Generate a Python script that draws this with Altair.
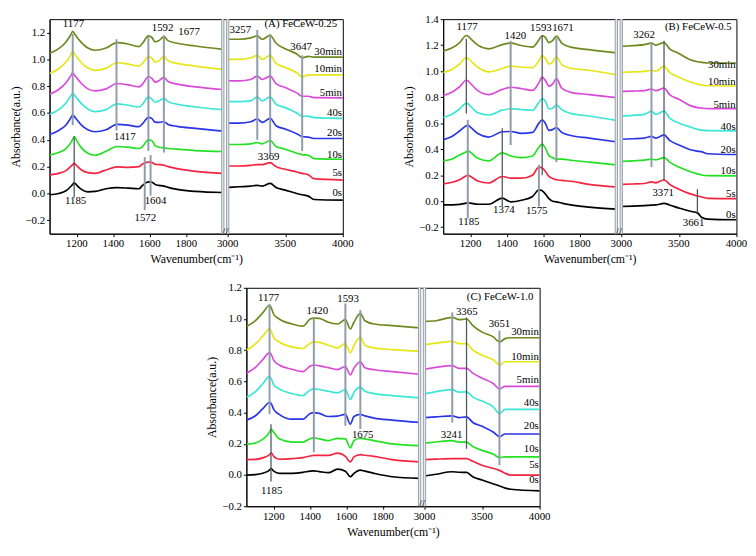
import altair as alt
import pandas as pd

SERIES = ["0s", "5s", "10s", "20s", "40s", "5min", "10min", "30min"]
COLORS = ["#000000", "#f5233f", "#22e022", "#2a35e6", "#3ae6d6", "#d94ad9", "#e6e619", "#6e8a1e"]

# ---------------- Panel A : FeCeW-0.25 ----------------
A_LEFT_W = [1050, 1100, 1140, 1165, 1177, 1185, 1200, 1225, 1260, 1300, 1360, 1420,
            1480, 1540, 1560, 1592, 1610, 1630, 1650, 1677, 1700, 1750, 1850, 2000]
A_LEFT = {
    "30min": [1.045, 1.08, 1.13, 1.18, 1.21, 1.195, 1.165, 1.125, 1.085, 1.068, 1.085, 1.125,
              1.115, 1.095, 1.12, 1.175, 1.165, 1.13, 1.14, 1.17, 1.14, 1.12, 1.1, 1.075],
    "10min": [0.895, 0.93, 0.98, 1.03, 1.06, 1.045, 1.015, 0.975, 0.935, 0.918, 0.935, 0.975,
              0.965, 0.95, 0.97, 1.02, 1.01, 0.98, 0.99, 1.02, 0.99, 0.97, 0.95, 0.925],
    "5min": [0.74, 0.775, 0.825, 0.875, 0.9, 0.885, 0.86, 0.82, 0.78, 0.765, 0.78, 0.82,
             0.81, 0.795, 0.815, 0.872, 0.86, 0.83, 0.84, 0.866, 0.835, 0.815, 0.795, 0.775],
    "40s": [0.59, 0.625, 0.675, 0.725, 0.747, 0.735, 0.71, 0.67, 0.63, 0.61, 0.625, 0.668,
            0.658, 0.645, 0.665, 0.72, 0.705, 0.68, 0.69, 0.71, 0.685, 0.665, 0.645, 0.625],
    "20s": [0.44, 0.47, 0.51, 0.56, 0.585, 0.575, 0.55, 0.51, 0.475, 0.46, 0.475, 0.515,
            0.51, 0.498, 0.52, 0.568, 0.56, 0.532, 0.53, 0.535, 0.515, 0.5, 0.485, 0.465],
    "10s": [0.286, 0.305, 0.335, 0.375, 0.405, 0.425, 0.39, 0.34, 0.3, 0.285, 0.315, 0.35,
            0.345, 0.335, 0.35, 0.4, 0.395, 0.355, 0.345, 0.34, 0.335, 0.33, 0.32, 0.313],
    "5s": [0.138, 0.15, 0.17, 0.2, 0.215, 0.227, 0.205, 0.175, 0.155, 0.15, 0.175, 0.198,
           0.195, 0.2, 0.22, 0.234, 0.232, 0.217, 0.215, 0.21, 0.2, 0.185, 0.165, 0.15],
    "0s": [-0.01, 0.0, 0.02, 0.05, 0.068, 0.079, 0.06, 0.03, 0.012, 0.015, 0.035, 0.043,
           0.04, 0.035, 0.06, 0.086, 0.085, 0.067, 0.06, 0.055, 0.045, 0.03, 0.015, 0.007],
}
A_RIGHT_W = [3000, 3100, 3200, 3257, 3300, 3369, 3420, 3500, 3600, 3647, 3700, 3750, 4000]
A_RIGHT = {
    "30min": [1.15, 1.15, 1.16, 1.175, 1.15, 1.18, 1.12, 1.08, 1.04, 1.012, 1.022, 1.017, 1.017],
    "10min": [1.0, 1.0, 1.01, 1.03, 1.0, 1.03, 0.97, 0.94, 0.9, 0.868, 0.885, 0.885, 0.885],
    "5min": [0.84, 0.84, 0.85, 0.875, 0.85, 0.875, 0.82, 0.79, 0.75, 0.725, 0.725, 0.715, 0.713],
    "40s": [0.685, 0.685, 0.69, 0.72, 0.69, 0.72, 0.665, 0.64, 0.6, 0.575, 0.577, 0.565, 0.56],
    "20s": [0.525, 0.525, 0.535, 0.555, 0.53, 0.56, 0.505, 0.48, 0.445, 0.425, 0.42, 0.41, 0.41],
    "10s": [0.365, 0.365, 0.37, 0.38, 0.37, 0.395, 0.35, 0.33, 0.3, 0.29, 0.285, 0.26, 0.255],
    "5s": [0.205, 0.205, 0.21, 0.215, 0.215, 0.23, 0.2, 0.18, 0.16, 0.15, 0.14, 0.11, 0.10],
    "0s": [0.045, 0.05, 0.055, 0.06, 0.055, 0.075, 0.045, 0.025, 0.0, -0.01, -0.02, -0.045, -0.05],
}
A_RULES_LIGHT = [(1177, 1.19, 0.51), (1417, 1.15, 0.47), (1592, 1.17, 0.317), (1677, 1.18, 0.305),
                 (1572, 0.27, -0.124), (1604, 0.286, -0.017), (3257, 1.22, 0.40),
                 (3369, 1.19, 0.293), (3647, 1.03, 0.317)]
A_RULES_DARK = [(1185, 0.425, -0.03)]
A_NOTES = [("1177", 1181, 1.26), ("1592", 1670, 1.236), ("1677", 1815, 1.205),
           ("1417", 1463, 0.418), ("1185", 1193, -0.06), ("1604", 1631, -0.053),
           ("1572", 1575, -0.18), ("3257", 3110, 1.22), ("3647", 3638, 1.093),
           ("3369", 3356, 0.27), ("(A) FeCeW-0.25", 3635, 1.267)]
A_TAGS = [0.0, 0.15, 0.289, 0.449, 0.597, 0.747, 0.93, 1.057]

# ---------------- Panel B : FeCeW-0.5 ----------------
B_LEFT_W = [1050, 1100, 1140, 1177, 1185, 1200, 1240, 1300, 1374, 1420, 1480, 1540,
            1575, 1593, 1610, 1630, 1650, 1671, 1700, 1750, 1850, 2000]
B_LEFT = {
    "30min": [1.155, 1.18, 1.22, 1.274, 1.27, 1.25, 1.2, 1.172, 1.204, 1.216, 1.197, 1.185,
              1.24, 1.274, 1.26, 1.22, 1.235, 1.27, 1.216, 1.185, 1.165, 1.14],
    "10min": [0.99, 1.015, 1.055, 1.104, 1.1, 1.08, 1.03, 0.995, 1.02, 1.039, 1.03, 1.027,
              1.08, 1.119, 1.1, 1.055, 1.07, 1.112, 1.05, 1.022, 1.007, 0.971],
    "5min": [0.813, 0.84, 0.88, 0.93, 0.927, 0.905, 0.85, 0.82, 0.86, 0.876, 0.865, 0.852,
             0.91, 0.954, 0.93, 0.885, 0.9, 0.942, 0.869, 0.837, 0.82, 0.796],
    "40s": [0.643, 0.67, 0.71, 0.752, 0.75, 0.73, 0.68, 0.663, 0.7, 0.711, 0.705, 0.699,
            0.76, 0.789, 0.77, 0.71, 0.715, 0.74, 0.704, 0.675, 0.655, 0.621],
    "20s": [0.473, 0.5, 0.54, 0.58, 0.585, 0.57, 0.52, 0.493, 0.534, 0.536, 0.522, 0.529,
            0.6, 0.626, 0.6, 0.545, 0.55, 0.566, 0.529, 0.505, 0.485, 0.456],
    "10s": [0.31, 0.325, 0.355, 0.38, 0.388, 0.375, 0.33, 0.31, 0.371, 0.347, 0.335, 0.347,
            0.415, 0.439, 0.41, 0.35, 0.335, 0.323, 0.323, 0.315, 0.3, 0.279],
    "5s": [0.133, 0.145, 0.165, 0.195, 0.2, 0.19, 0.155, 0.14, 0.19, 0.177, 0.177, 0.2,
           0.262, 0.255, 0.23, 0.19, 0.175, 0.165, 0.16, 0.153, 0.129, 0.109],
    "0s": [-0.029, -0.028, -0.025, -0.015, -0.012, -0.015, -0.024, -0.024, 0.024, -0.005, 0.007, 0.036,
           0.087, 0.08, 0.056, 0.02, 0.0, -0.005, -0.015, -0.029, -0.046, -0.061],
}
B_RIGHT_W = [3000, 3100, 3200, 3262, 3300, 3371, 3420, 3500, 3600, 3661, 3700, 3750, 4000]
B_RIGHT = {
    "30min": [1.19, 1.197, 1.204, 1.216, 1.2, 1.22, 1.172, 1.136, 1.087, 1.072, 1.068, 1.063, 1.063],
    "10min": [0.99, 0.994, 0.998, 1.007, 1.0, 1.039, 0.99, 0.954, 0.917, 0.9, 0.893, 0.888, 0.886],
    "5min": [0.845, 0.847, 0.85, 0.862, 0.85, 0.869, 0.82, 0.784, 0.735, 0.72, 0.716, 0.712, 0.711],
    "40s": [0.655, 0.66, 0.667, 0.692, 0.667, 0.692, 0.638, 0.602, 0.57, 0.552, 0.546, 0.542, 0.541],
    "20s": [0.476, 0.48, 0.485, 0.498, 0.485, 0.51, 0.468, 0.432, 0.396, 0.385, 0.379, 0.365, 0.359],
    "10s": [0.306, 0.31, 0.316, 0.323, 0.318, 0.335, 0.3, 0.262, 0.226, 0.21, 0.201, 0.196, 0.194],
    "5s": [0.129, 0.132, 0.136, 0.148, 0.141, 0.165, 0.129, 0.092, 0.056, 0.04, 0.032, 0.022, 0.019],
    "0s": [-0.041, -0.038, -0.034, -0.031, -0.029, -0.017, -0.029, -0.053, -0.078, -0.09, -0.126, -0.138, -0.143],
}
B_RULES_LIGHT = [(1185, 0.626, -0.133), (1420, 1.233, 0.432), (1575, 0.28, -0.04),
                 (1671, 1.257, 0.3), (3262, 1.225, 0.262)]
B_RULES_DARK = [(1177, 1.25, 0.675), (1374, 0.56, -0.04), (1593, 1.27, 0.2),
                (3371, 1.233, 0.153), (3661, 0.092, -0.09)]
B_NOTES = [("1177", 1181, 1.337), ("1420", 1446, 1.27), ("1593", 1586, 1.33), ("1671", 1707, 1.33),
           ("1185", 1191, -0.163), ("1374", 1383, -0.07), ("1575", 1563, -0.078),
           ("3262", 3198, 1.274), ("(B) FeCeW-0.5", 3669, 1.342), ("3371", 3364, 0.06),
           ("3661", 3628, -0.17)]
B_TAGS = [-0.107, 0.056, 0.233, 0.396, 0.573, 0.743, 0.917, 1.046]

# ---------------- Panel C : FeCeW-1.0 ----------------
C_LEFT_W = [1050, 1100, 1140, 1177, 1185, 1200, 1230, 1300, 1360, 1400, 1420, 1450,
            1500, 1550, 1593, 1620, 1640, 1675, 1700, 1750, 1850, 2000]
C_LEFT = {
    "30min": [0.952, 0.99, 1.04, 1.088, 1.075, 1.03, 1.0, 0.968, 0.954, 1.0, 1.006, 1.004,
              0.979, 0.968, 0.996, 0.937, 0.979, 1.036, 0.989, 0.968, 0.958, 0.943],
    "10min": [0.8, 0.84, 0.89, 0.937, 0.925, 0.88, 0.853, 0.821, 0.811, 0.845, 0.853, 0.85,
              0.832, 0.815, 0.842, 0.783, 0.83, 0.884, 0.832, 0.815, 0.804, 0.794],
    "5min": [0.653, 0.69, 0.74, 0.785, 0.775, 0.737, 0.705, 0.678, 0.663, 0.698, 0.705, 0.7,
             0.688, 0.676, 0.695, 0.642, 0.685, 0.726, 0.688, 0.675, 0.663, 0.646],
    "40s": [0.499, 0.535, 0.585, 0.632, 0.62, 0.579, 0.552, 0.522, 0.509, 0.545, 0.552, 0.548,
            0.537, 0.527, 0.547, 0.484, 0.53, 0.562, 0.537, 0.522, 0.509, 0.495],
    "20s": [0.352, 0.38, 0.425, 0.465, 0.46, 0.421, 0.389, 0.358, 0.358, 0.395, 0.4, 0.395,
            0.375, 0.378, 0.389, 0.326, 0.375, 0.389, 0.379, 0.365, 0.352, 0.337],
    "10s": [0.196, 0.205, 0.23, 0.275, 0.295, 0.274, 0.232, 0.211, 0.211, 0.233, 0.238, 0.232,
            0.221, 0.235, 0.232, 0.175, 0.221, 0.236, 0.232, 0.221, 0.2, 0.189],
    "5s": [0.099, 0.1, 0.11, 0.13, 0.143, 0.12, 0.101, 0.105, 0.112, 0.122, 0.126, 0.126,
           0.126, 0.141, 0.12, 0.084, 0.116, 0.131, 0.127, 0.12, 0.099, 0.084],
    "0s": [0.0, 0.003, 0.012, 0.032, 0.042, 0.025, 0.011, 0.011, 0.017, 0.025, 0.027, 0.022,
           0.015, 0.038, 0.025, -0.011, 0.011, 0.032, 0.025, 0.011, -0.011, -0.021],
}
C_RIGHT_W = [3000, 3100, 3241, 3300, 3365, 3420, 3500, 3600, 3651, 3700, 3750, 4000]
C_RIGHT = {
    "30min": [0.985, 0.989, 1.01, 0.996, 1.0, 0.958, 0.916, 0.884, 0.853, 0.874, 0.88, 0.88],
    "10min": [0.836, 0.845, 0.857, 0.842, 0.842, 0.8, 0.768, 0.737, 0.705, 0.726, 0.726, 0.726],
    "5min": [0.678, 0.69, 0.701, 0.684, 0.684, 0.653, 0.621, 0.585, 0.552, 0.568, 0.568, 0.568],
    "40s": [0.52, 0.535, 0.547, 0.531, 0.533, 0.499, 0.474, 0.436, 0.394, 0.421, 0.421, 0.421],
    "20s": [0.368, 0.373, 0.379, 0.368, 0.373, 0.337, 0.312, 0.274, 0.246, 0.263, 0.263, 0.263],
    "10s": [0.204, 0.212, 0.221, 0.211, 0.211, 0.183, 0.158, 0.133, 0.112, 0.116, 0.116, 0.116],
    "5s": [0.099, 0.102, 0.105, 0.105, 0.105, 0.088, 0.063, 0.042, 0.03, 0.011, 0.0, 0.0],
    "0s": [-0.006, 0.005, 0.021, 0.018, 0.017, -0.011, -0.032, -0.057, -0.07, -0.084, -0.091, -0.101],
}
C_RULES_LIGHT = [(1177, 1.095, 0.39), (1420, 1.01, 0.147), (1593, 1.1, 0.316),
                 (1675, 1.057, 0.295), (3241, 1.042, 0.337), (3651, 0.926, 0.063)]
C_RULES_DARK = [(1185, 0.326, -0.042), (3365, 1.01, 0.168)]
C_NOTES = [("1177", 1172, 1.137), ("1420", 1439, 1.053), ("1593", 1608, 1.126),
           ("1675", 1688, 0.257), ("1185", 1189, -0.101), ("(C) FeCeW-1.0", 3657, 1.143),
           ("3365", 3367, 1.046), ("3651", 3651, 0.968), ("3241", 3235, 0.257)]
C_TAGS = [-0.032, 0.067, 0.168, 0.312, 0.463, 0.61, 0.758, 0.916]

X_TICKS = [1200, 1400, 1600, 1800, 3000, 3500, 4000]
BREAK_W = [2000, 3000]

# ---------------- broken-axis geometry ----------------
LW, GAP, RW = 176, 5, 117
PW = LW + GAP + RW
U_EXPR = (f"datum.w <= 2000 ? (datum.w - 1050) * {LW} / 950 : "
          f"(datum.w >= 3000 ? {LW + GAP} + (datum.w - 3000) * {RW} / 1000 : "
          f"{LW} + (datum.w - 2000) * {GAP} / 1000)")


def u_of(w):
    if w <= 2000:
        return (w - 1050) * LW / 950
    if w >= 3000:
        return LW + GAP + (w - 3000) * RW / 1000
    return LW + (w - 2000) * GAP / 1000


X_TICK_U = [round(u_of(w), 2) for w in X_TICKS]
FONT = "Liberation Serif"


def build_panel(lw, lvals, rw, rvals, ydom, yticks, light, dark, notes, tags, height):
    rows = []
    for s in SERIES:
        rows += [{"series": s, "region": "L", "w": w, "v": v} for w, v in zip(lw, lvals[s])]
        rows += [{"series": s, "region": "R", "w": w, "v": v} for w, v in zip(rw, rvals[s])]
    spectra = pd.DataFrame(rows)

    # tick marks come from the axis; tick labels are drawn as a text layer below
    xenc = alt.X("u:Q", scale=alt.Scale(domain=[0, PW], nice=False, zero=False),
                 axis=alt.Axis(values=X_TICK_U, labels=False, tickCount=20,
                               title="Wavenumber(cm⁻¹)", titlePadding=17, grid=False))
    yenc = alt.Y("v:Q", scale=alt.Scale(domain=ydom, nice=False, zero=False),
                 axis=alt.Axis(values=yticks, format=".1f", title="Absorbance(a.u.)",
                               grid=False, labelOverlap=False))

    lines = alt.Chart(spectra).transform_calculate(u=U_EXPR).mark_line(
        strokeWidth=1.7, interpolate="monotone", clip=True
    ).encode(
        x=xenc, y=yenc,
        color=alt.Color("series:N", scale=alt.Scale(domain=SERIES, range=COLORS), legend=None),
        detail="region:N",
    )

    def rules(data, color, width):
        df = pd.DataFrame(data, columns=["w", "v", "v2"])
        return alt.Chart(df).transform_calculate(u=U_EXPR).mark_rule(
            color=color, strokeWidth=width).encode(x=xenc, y=yenc, y2="v2:Q")

    brk_df = pd.DataFrame({"w": BREAK_W})
    brk_outer = alt.Chart(brk_df).transform_calculate(u=U_EXPR).mark_rule(
        color="#9ea7b0", strokeWidth=3.4).encode(x=xenc)
    brk_inner = alt.Chart(brk_df).transform_calculate(u=U_EXPR).mark_rule(
        color="#e4e8ec", strokeWidth=1.2).encode(x=xenc)

    slash = alt.Chart(pd.DataFrame({"w": [2500], "v": [ydom[0]], "t": ["//"]})).transform_calculate(
        u=U_EXPR).mark_text(font=FONT, fontSize=11, align="center", baseline="middle", dy=-2).encode(
        x=xenc, y=yenc, text="t:N")

    xl = pd.DataFrame({"w": X_TICKS, "v": [ydom[0]] * len(X_TICKS), "t": [str(w) for w in X_TICKS]})
    xlabels = alt.Chart(xl).transform_calculate(u=U_EXPR).mark_text(
        font=FONT, fontSize=11, align="center", baseline="top", dy=5, color="black").encode(
        x=xenc, y=yenc, text="t:N")

    ndf = pd.DataFrame(notes, columns=["t", "w", "v"])
    note_layer = alt.Chart(ndf).transform_calculate(u=U_EXPR).mark_text(
        font=FONT, fontSize=11, align="center", baseline="middle", color="black").encode(
        x=xenc, y=yenc, text="t:N")

    tdf = pd.DataFrame({"t": SERIES, "v": tags, "w": [3993] * len(SERIES)})
    tag_layer = alt.Chart(tdf).transform_calculate(u=U_EXPR).mark_text(
        font=FONT, fontSize=11, align="right", baseline="middle", color="black").encode(
        x=xenc, y=yenc, text="t:N")

    return alt.layer(
        lines,
        rules(light, "#8f9caa", 2),
        rules(dark, "#4f5761", 1.3),
        brk_outer, brk_inner, slash, xlabels, note_layer, tag_layer,
    ).properties(width=PW, height=height)


Y_A = [-0.2, 0.0, 0.2, 0.4, 0.6, 0.8, 1.0, 1.2]
Y_B = [-0.2, 0.0, 0.2, 0.4, 0.6, 0.8, 1.0, 1.2, 1.4]
Y_C = [-0.2, 0.0, 0.2, 0.4, 0.6, 0.8, 1.0, 1.2]

panel_a = build_panel(A_LEFT_W, A_LEFT, A_RIGHT_W, A_RIGHT, [-0.3, 1.3], Y_A,
                      A_RULES_LIGHT, A_RULES_DARK, A_NOTES, A_TAGS, 218)
panel_b = build_panel(B_LEFT_W, B_LEFT, B_RIGHT_W, B_RIGHT, [-0.25, 1.4], Y_B,
                      B_RULES_LIGHT, B_RULES_DARK, B_NOTES, B_TAGS, 218)
panel_c = build_panel(C_LEFT_W, C_LEFT, C_RIGHT_W, C_RIGHT, [-0.2, 1.2], Y_C,
                      C_RULES_LIGHT, C_RULES_DARK, C_NOTES, C_TAGS, 222)

top_row = alt.hconcat(panel_a, panel_b, spacing=48)
chart = alt.vconcat(top_row, panel_c, spacing=16, center=True).properties(
    padding=0, background="white"
).configure_view(
    stroke="black", strokeWidth=1
).configure_axis(
    labelFont=FONT, titleFont=FONT, labelFontSize=11, titleFontSize=12,
    titleFontWeight="normal", labelColor="black", titleColor="black",
    domainColor="black", tickColor="black", tickSize=3, labelPadding=2, titlePadding=3
)

chart.save("out.html", embed_options={"renderer": "svg", "actions": False})
